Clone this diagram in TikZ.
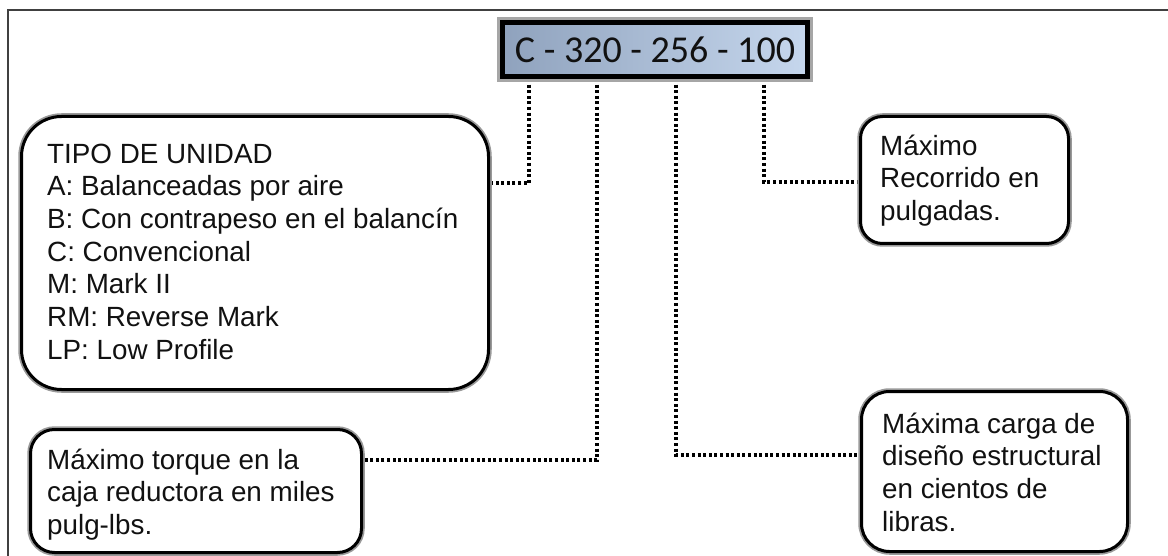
\documentclass[tikz,border=0pt]{standalone}
\usepackage{fontspec}
\setmainfont{Liberation Sans}
\newfontfamily\codefont{Carlito}
\pgfdeclarelayer{bg}
\pgfsetlayers{bg,main}
\definecolor{codeL}{HTML}{8FA2BD}
\definecolor{codeR}{HTML}{C6D7ED}
\definecolor{txtc}{HTML}{111111}
\begin{document}
\begin{tikzpicture}[x=1pt,y=-1pt,
  rbox/.style={draw=black, line width=3pt, rounded corners=#1, fill=white,
    minimum width=0pt, minimum height=0pt, inner sep=0pt, anchor=north west,
    preaction={draw=black!40, line width=6.5pt}},
  txt/.style={font=\fontsize{27.8}{32.7}\selectfont, text=txtc, align=left,
    inner sep=0pt, anchor=north west},
  conn/.style={draw=black, line width=3.3pt, dash pattern=on 3pt off 2.6pt},
  codebox/.style={draw=black, line width=5pt, left color=codeL, right color=codeR,
    minimum width=305pt, minimum height=53.5pt, inner sep=0pt,
    preaction={draw=black!35, line width=11pt},
    font=\codefont\fontsize{38}{40}\selectfont, text=txtc},
  frame/.style={draw=black!75, line width=2.2pt}
]
\useasboundingbox (0,0) rectangle (1168,556);
\clip (0,0) rectangle (1168,556);

\node[codebox] (code) at (655,49.75) {C - 320 - 256 - 100};

\node[rbox=40, minimum width=467pt, minimum height=273pt] (tipo) at (20,115) {};
\node[txt] (tipotxt) at (47,140.1) {\strut TIPO DE UNIDAD\\A: Balanceadas por aire\\B: Con contrapeso en el balancín\\C: Convencional\\M: Mark II\\RM: Reverse Mark\\LP: Low Profile};

\node[rbox=22, minimum width=208pt, minimum height=127pt] (recorrido) at (859,115) {};
\node[txt] (recorridotxt) at (880,132.1) {\strut Máximo\\Recorrido en\\pulgadas.};

\node[rbox=24, minimum width=331pt, minimum height=123pt] (torque) at (29,428) {};
\node[txt] (torquetxt) at (47,446.1) {\strut Máximo torque en la\\caja reductora en miles\\pulg-lbs.};

\node[rbox=28, minimum width=266pt, minimum height=160pt] (carga) at (860,390) {};
\node[txt] (cargatxt) at (882,410.1) {\strut Máxima carga de\\diseño estructural\\en cientos de\\libras.};

\begin{pgfonlayer}{bg}
\fill[white] (0,0) rectangle (1168,556);
\draw[frame] (8,10) rectangle (1200,600);
\draw[conn] (code.south -| 529,0) |- (tipo.east |- 0,183);
\draw[conn] (code.south -| 597,0) |- (torque.east |- 0,460);
\draw[conn] (code.south -| 676,0) |- (carga.west |- 0,455);
\draw[conn] (code.south -| 764,0) |- (recorrido.west |- 0,182);
\end{pgfonlayer}
\end{tikzpicture}
\end{document}
